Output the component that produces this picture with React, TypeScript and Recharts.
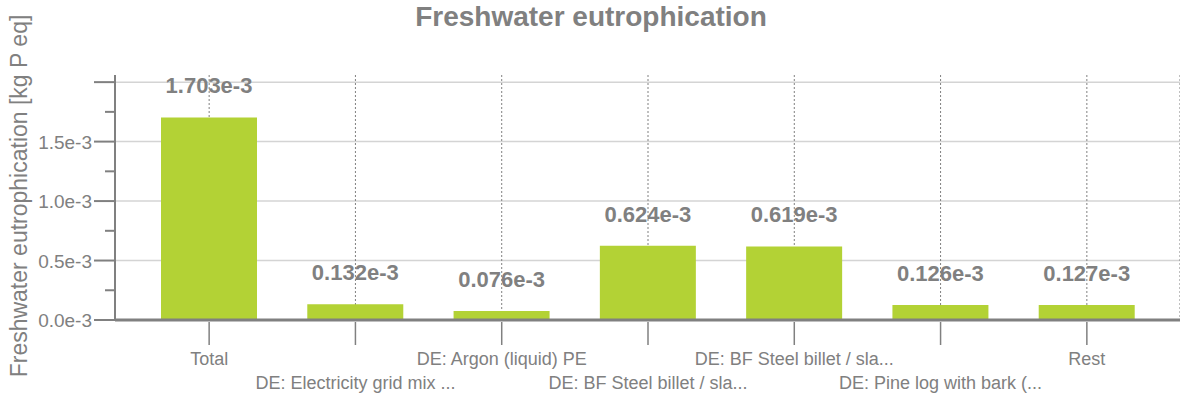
import React from "react";
import { BarChart, Bar, XAxis, YAxis, CartesianGrid, LabelList } from "recharts";

const categories = [
  "Total",
  "DE: Electricity grid mix ...",
  "DE: Argon (liquid) PE",
  "DE: BF Steel billet / sla...",
  "DE: BF Steel billet / sla...",
  "DE: Pine log with bark (...",
  "Rest",
];
const values = [0.001703, 0.000132, 0.000076, 0.000624, 0.000619, 0.000126, 0.000127];
const majorTicks = [0, 0.0005, 0.001, 0.0015, 0.002];
const allTicks = [0, 0.00025, 0.0005, 0.00075, 0.001, 0.00125, 0.0015, 0.00175, 0.002];
const labeledTicks = [0, 0.0005, 0.001, 0.0015];

const title = "Freshwater eutrophication";
const yLabel = "Freshwater eutrophication [kg P eq]";

const data = categories.map((name, i) => ({ name, value: values[i] }));

const GRAY = "#808080";
const FONT = "'Liberation Sans', Arial, sans-serif";

const fmtTick = (v: number) => (v * 1000).toFixed(1) + "e-3";
const fmtBar = (v: number) => (v * 1000).toFixed(3) + "e-3";

const YTick = (props: any) => {
  const { x, y, payload } = props;
  const v = payload.value as number;
  const isMajor = majorTicks.some((m) => Math.abs(m - v) < 1e-9);
  const hasLabel = labeledTicks.some((m) => Math.abs(m - v) < 1e-9);
  return (
    <g>
      <line x1={x - (isMajor ? 21 : 10)} x2={x} y1={y} y2={y} stroke={GRAY} strokeWidth={2} />
      {hasLabel && (
        <text x={x - 23} y={y} dy={7} textAnchor="end" fill={GRAY} fontSize={19} fontFamily={FONT}>
          {fmtTick(v)}
        </text>
      )}
    </g>
  );
};

const XTick = (props: any) => {
  const { x, y, payload, index } = props;
  const row = index % 2;
  return (
    <g>
      <line x1={x} x2={x} y1={y + 2} y2={y + 25} stroke={GRAY} strokeWidth={1.5} />
      <text x={x} y={y + (row === 0 ? 45 : 69)} textAnchor="middle" fill={GRAY} fontSize={18} fontFamily={FONT}>
        {payload.value}
      </text>
    </g>
  );
};

const BarLabel = (props: any) => {
  const { x, y, width, value } = props;
  return (
    <text x={x + width / 2} y={y - 24} textAnchor="middle" fill={GRAY} fontSize={22} fontWeight="bold" fontFamily={FONT}>
      {fmtBar(value)}
    </text>
  );
};

export default function App() {
  return (
    <div style={{ position: "absolute", left: 0, top: 0, width: 1180, height: 400, background: "#fff" }}>
      <BarChart width={1180} height={400} data={data} margin={{ top: 75, right: 0, bottom: 0, left: 0 }}>
        <CartesianGrid vertical={false} horizontalValues={majorTicks} stroke="#d4d4d4" strokeWidth={1.5} />
        <CartesianGrid horizontal={false} stroke={GRAY} strokeDasharray="2 2" strokeWidth={1} />
        <XAxis
          dataKey="name"
          height={80}
          interval={0}
          tickSize={0}
          tickMargin={0}
          tickLine={false}
          padding={{ left: 21, right: 20 }}
          axisLine={{ stroke: GRAY, strokeWidth: 3 }}
          tick={<XTick />}
        />
        <YAxis
          width={115}
          domain={[0, 0.00206]}
          ticks={allTicks}
          interval={0}
          tickSize={0}
          tickMargin={0}
          tickLine={false}
          axisLine={{ stroke: GRAY, strokeWidth: 2 }}
          tick={<YTick />}
        />
        <Bar dataKey="value" fill="#b3d235" barSize={96} isAnimationActive={false}>
          <LabelList dataKey="value" content={<BarLabel />} />
        </Bar>
      </BarChart>
      <svg width={1180} height={400} style={{ position: "absolute", left: 0, top: 0, pointerEvents: "none" }}>
        <text x={591} y={26} textAnchor="middle" fill={GRAY} fontSize={28} fontWeight="bold" fontFamily={FONT}>
          {title}
        </text>
        <text
          x={27}
          y={196}
          textAnchor="middle"
          fill={GRAY}
          fontSize={23}
          fontFamily={FONT}
          transform="rotate(-90 27 196)"
        >
          {yLabel}
        </text>
      </svg>
    </div>
  );
}
